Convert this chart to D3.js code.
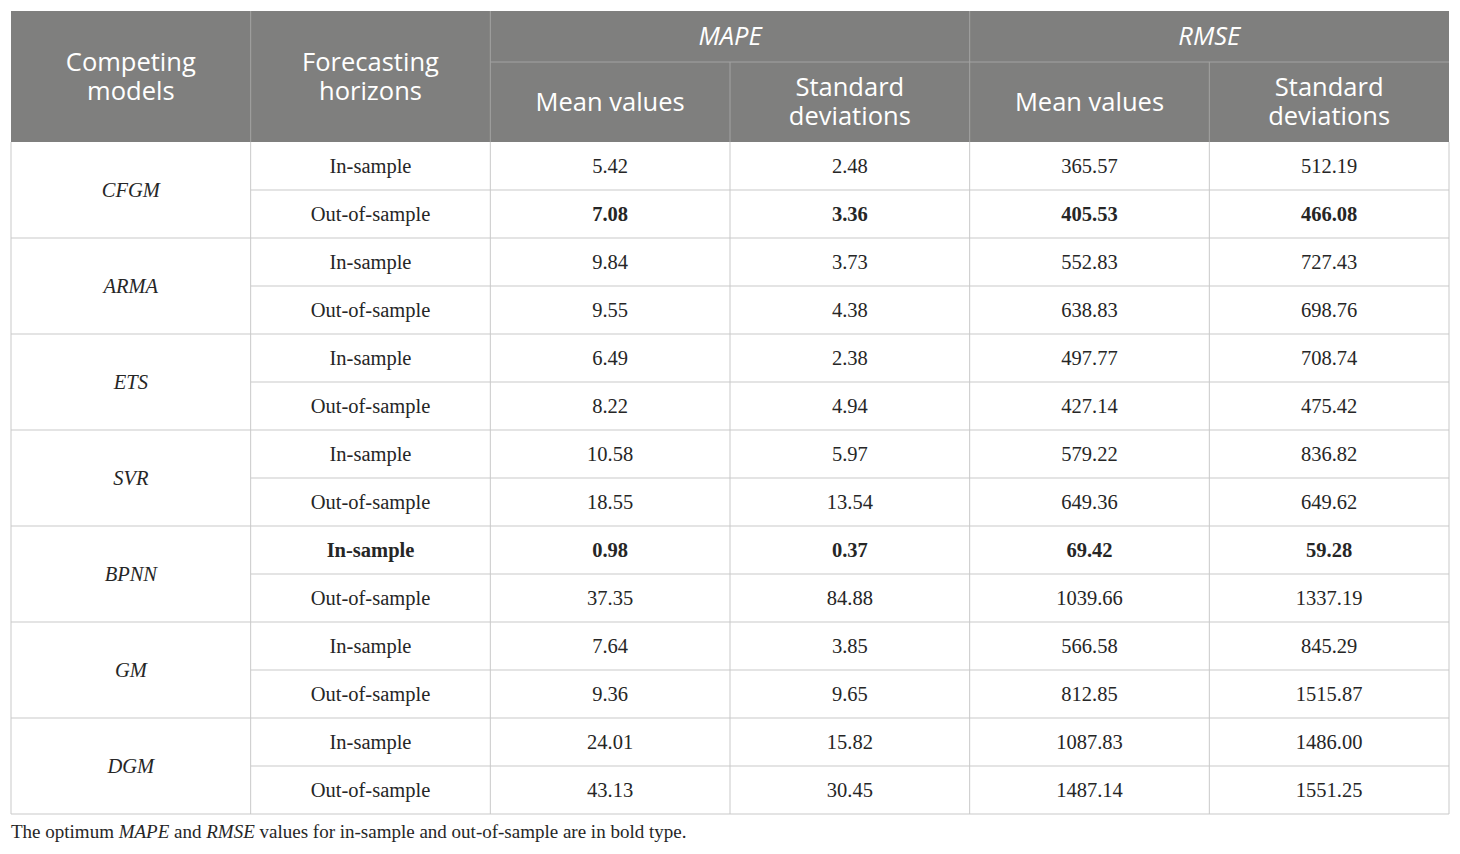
<!DOCTYPE html>
<html lang="en">
<head>
<meta charset="UTF-8">
<title>Forecasting accuracy table</title>
<script src="https://cdn.jsdelivr.net/npm/d3@7"></script>
<style>
  body { margin: 0; background: #fff; }
  svg { display: block; }
  .head { font-family: "Open Sans", sans-serif; fill: #fff; font-size: 25.5px; }
  .cell { font-family: "Liberation Serif", serif; fill: #262626; font-size: 20.5px; }
  .note { font-family: "Liberation Serif", serif; fill: #262626; font-size: 19px; }
</style>
</head>
<body>
<script>
const models = ['CFGM', 'ARMA', 'ETS', 'SVR', 'BPNN', 'GM', 'DGM']
const horizons = ['In-sample', 'Out-of-sample']

// one entry per row: model x horizon
const mapeMean = [5.42, 7.08, 9.84, 9.55, 6.49, 8.22, 10.58, 18.55, 0.98, 37.35, 7.64, 9.36, 24.01, 43.13]
const mapeSd   = [2.48, 3.36, 3.73, 4.38, 2.38, 4.94, 5.97, 13.54, 0.37, 84.88, 3.85, 9.65, 15.82, 30.45]
const rmseMean = [365.57, 405.53, 552.83, 638.83, 497.77, 427.14, 579.22, 649.36, 69.42, 1039.66, 566.58, 812.85, 1087.83, 1487.14]
const rmseSd   = [512.19, 466.08, 727.43, 698.76, 708.74, 475.42, 836.82, 649.62, 59.28, 1337.19, 845.29, 1515.87, 1486.00, 1551.25]

// rows whose values are set in bold (optimum), and rows whose label is bold too
const boldRows = [1, 8]
const boldLabelRows = [8]

const columns = ['model', 'horizon', 'mapeMean', 'mapeSd', 'rmseMean', 'rmseSd']
const groups = [
    { name: 'MAPE', from: 'mapeMean', to: 'mapeSd' },
    { name: 'RMSE', from: 'rmseMean', to: 'rmseSd' }
]

const width = 1460, height = 854
const leftX = 11, rightX = 1449, topY = 11, headMid = 62, headBottom = 142, bottomY = 814

const rows = []
models.forEach((m, i) => {
    horizons.forEach((h, j) => {
        const k = i * 2 + j
        rows.push({ model: m, horizon: h, mapeMean: mapeMean[k], mapeSd: mapeSd[k],
                    rmseMean: rmseMean[k], rmseSd: rmseSd[k], index: k })
    })
})

const x = d3.scaleBand().domain(columns).range([leftX, rightX])
const y = d3.scaleBand().domain(d3.range(rows.length)).range([headBottom, bottomY])
const fmt = d3.format('.2f')

const svg = d3.select('body').append('svg')
    .attr('width', width)
    .attr('height', height)

// header background
svg.append('rect')
    .attr('x', leftX).attr('y', topY)
    .attr('width', rightX - leftX).attr('height', headBottom - topY)
    .attr('fill', '#7f7f7e')

const headLine = '#a3a3a2'
const grid = '#c9c9c9'

// header separators
svg.append('g').selectAll('line')
    .data(columns.slice(1))
    .enter()
    .append('line')
    .attr('x1', d => x(d)).attr('x2', d => x(d))
    .attr('y1', d => (d === 'mapeSd' || d === 'rmseSd') ? headMid : topY)
    .attr('y2', headBottom)
    .attr('stroke', headLine)
    .attr('stroke-width', 1)

svg.append('line')
    .attr('x1', x('mapeMean')).attr('x2', rightX)
    .attr('y1', headMid).attr('y2', headMid)
    .attr('stroke', headLine)

// header text
const head = svg.append('g').attr('class', 'head').attr('text-anchor', 'middle')
const lineGap = 29

// multi-line header cell as one text with tspans
function headCell(cx, cy, lines) {
    const t = head.append('text')
        .attr('x', cx)
        .attr('y', cy - (lines.length - 1) / 2 * lineGap)
    lines.forEach((s, i) => {
        t.append('tspan')
            .attr('x', cx)
            .attr('dy', i === 0 ? '0.35em' : lineGap)
            .text(s)
    })
    return t
}

headCell(x('model') + x.bandwidth() / 2, (topY + headBottom) / 2, ['Competing', 'models'])
headCell(x('horizon') + x.bandwidth() / 2, (topY + headBottom) / 2, ['Forecasting', 'horizons'])

groups.forEach(g => {
    headCell((x(g.from) + x(g.to) + x.bandwidth()) / 2, (topY + headMid) / 2, [g.name])
        .style('font-style', 'italic')
})

const subHeads = [
    { col: 'mapeMean', lines: ['Mean values'] },
    { col: 'mapeSd', lines: ['Standard', 'deviations'] },
    { col: 'rmseMean', lines: ['Mean values'] },
    { col: 'rmseSd', lines: ['Standard', 'deviations'] }
]
subHeads.forEach(h => {
    headCell(x(h.col) + x.bandwidth() / 2, (headMid + headBottom) / 2, h.lines)
})

// body grid: horizontal lines
const body = svg.append('g')
body.selectAll('line.h')
    .data(d3.range(1, rows.length + 1))
    .enter()
    .append('line')
    .attr('class', 'h')
    .attr('x1', d => d % 2 === 0 ? leftX : x('horizon'))
    .attr('x2', rightX)
    .attr('y1', d => y(d - 1) + y.bandwidth())
    .attr('y2', d => y(d - 1) + y.bandwidth())
    .attr('stroke', grid)

// vertical lines
body.selectAll('line.v')
    .data([leftX].concat(columns.map(c => x(c) + x.bandwidth())))
    .enter()
    .append('line')
    .attr('class', 'v')
    .attr('x1', d => d).attr('x2', d => d)
    .attr('y1', headBottom).attr('y2', bottomY)
    .attr('stroke', grid)

// model labels spanning two rows
body.selectAll('text.model')
    .data(models)
    .enter()
    .append('text')
    .attr('class', 'cell')
    .attr('text-anchor', 'middle')
    .attr('x', x('model') + x.bandwidth() / 2)
    .attr('y', (d, i) => y(i * 2) + y.bandwidth())
    .attr('dy', '0.35em')
    .style('font-style', 'italic')
    .text(d => d)

// row cells
const rowG = body.selectAll('g.row')
    .data(rows)
    .enter()
    .append('g')
    .attr('class', 'row')
    .attr('transform', d => `translate(0,${y(d.index) + y.bandwidth() / 2})`)

rowG.append('text')
    .attr('class', 'cell')
    .attr('text-anchor', 'middle')
    .attr('x', x('horizon') + x.bandwidth() / 2)
    .attr('dy', '0.35em')
    .style('font-weight', d => boldLabelRows.includes(d.index) ? 'bold' : 'normal')
    .text(d => d.horizon)

columns.slice(2).forEach(c => {
    rowG.append('text')
        .attr('class', 'cell')
        .attr('text-anchor', 'middle')
        .attr('x', x(c) + x.bandwidth() / 2)
        .attr('dy', '0.35em')
        .style('font-weight', d => boldRows.includes(d.index) ? 'bold' : 'normal')
        .text(d => fmt(d[c]))
})

// footnote
const note = svg.append('text')
    .attr('class', 'note')
    .attr('x', leftX)
    .attr('y', 838)
note.append('tspan').text('The optimum ')
note.append('tspan').style('font-style', 'italic').text('MAPE')
note.append('tspan').text(' and ')
note.append('tspan').style('font-style', 'italic').text('RMSE')
note.append('tspan').text(' values for in-sample and out-of-sample are in bold type.')
</script>
</body>
</html>
